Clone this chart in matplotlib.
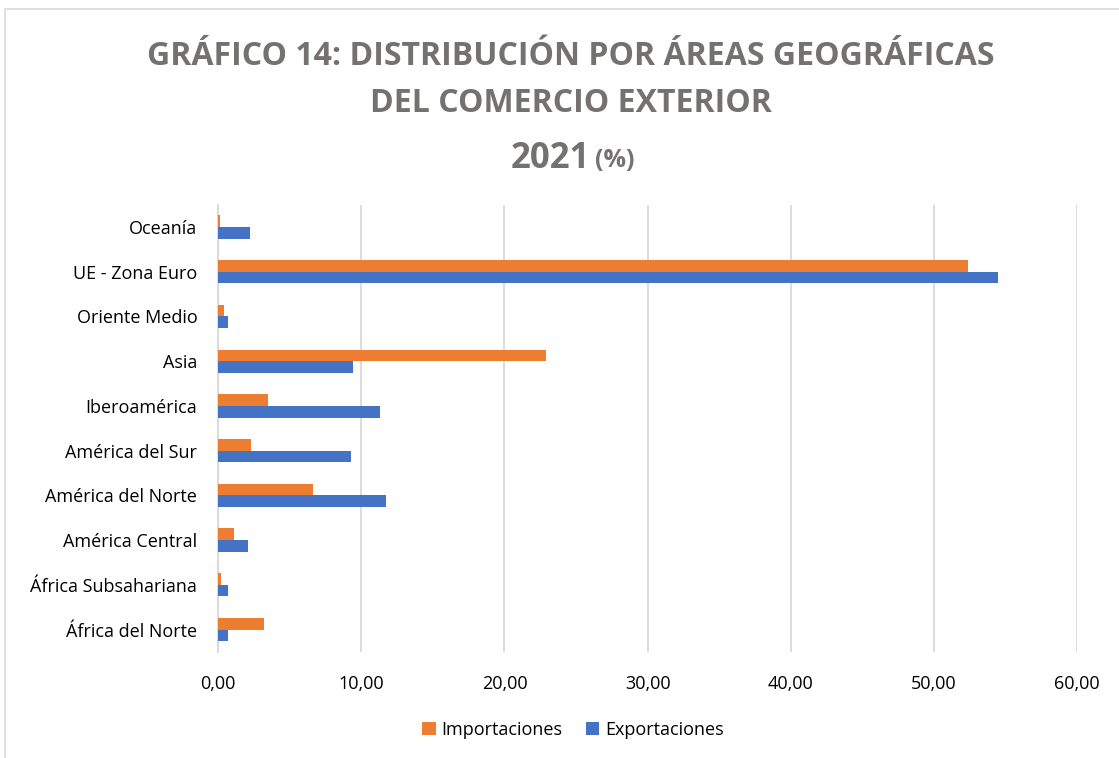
import matplotlib
matplotlib.use("Agg")
import matplotlib.pyplot as plt
from matplotlib.patches import Rectangle
import numpy as np

categories = ["África del Norte", "África Subsahariana", "América Central",
              "América del Norte", "América del Sur", "Iberoamérica", "Asia",
              "Oriente Medio", "UE - Zona Euro", "Oceanía"]
importaciones = [3.2, 0.2, 1.1, 6.6, 2.3, 3.5, 22.9, 0.4, 52.4, 0.1]
exportaciones = [0.7, 0.7, 2.1, 11.7, 9.3, 11.3, 9.4, 0.7, 54.5, 2.2]
xticks = [0, 10, 20, 30, 40, 50, 60]
xtick_labels = ["0,00", "10,00", "20,00", "30,00", "40,00", "50,00", "60,00"]

FONT = ["Open Sans", "DejaVu Sans"]
plt.rcParams['font.family'] = FONT

fig = plt.figure(figsize=(11.19, 7.58), dpi=100)
ax = fig.add_axes([0.195, 0.14, 0.9625 - 0.195, 0.73 - 0.14])

y = np.arange(len(categories))
h = 0.26
ax.barh(y + h / 2, importaciones, height=h, color="#ED7D31", label="Importaciones", zorder=3)
ax.barh(y - h / 2, exportaciones, height=h, color="#4472C4", label="Exportaciones", zorder=3)

ax.set_xlim(0, 60)
ax.set_ylim(-0.5, len(categories) - 0.5)
ax.set_xticks(xticks)
ax.set_xticklabels(xtick_labels)
ax.set_yticks(y)
ax.set_yticklabels(categories)
ax.tick_params(axis='both', length=0, labelsize=13, colors="#000000")
ax.tick_params(axis='x', pad=17)
ax.tick_params(axis='y', pad=15)
ax.grid(axis='x', color="#d9d9d9", linewidth=1.3, zorder=0)
for s in ["top", "right", "bottom"]:
    ax.spines[s].set_visible(False)
ax.spines["left"].set_color("#d9d9d9")
ax.spines["left"].set_linewidth(1.3)

leg = fig.legend(loc="center", bbox_to_anchor=(0.512, 0.037), ncol=2, frameon=False,
                 fontsize=13, handlelength=0.75, handleheight=0.75, handletextpad=0.3,
                 columnspacing=1.3)

fig.text(0.51, 0.926, "GRÁFICO 14: DISTRIBUCIÓN POR ÁREAS GEOGRÁFICAS",
         ha="center", va="center", fontsize=23, fontweight="bold", color="#767171")
fig.text(0.51, 0.863, "DEL COMERCIO EXTERIOR",
         ha="center", va="center", fontsize=23, fontweight="bold", color="#767171")
fig.text(0.527, 0.79, "2021", ha="right", va="center", fontsize=25,
         fontweight="bold", color="#767171")
fig.text(0.532, 0.788, "(%)", ha="left", va="center", fontsize=18,
         fontweight="bold", color="#767171")

fig.patches.append(Rectangle((5 / 1119, -0.01), 1.1, 1 - 9 / 758 + 0.01,
                             transform=fig.transFigure, fill=False,
                             edgecolor="#d9d9d9", linewidth=1.2))

fig.savefig("out.png", dpi=100)
